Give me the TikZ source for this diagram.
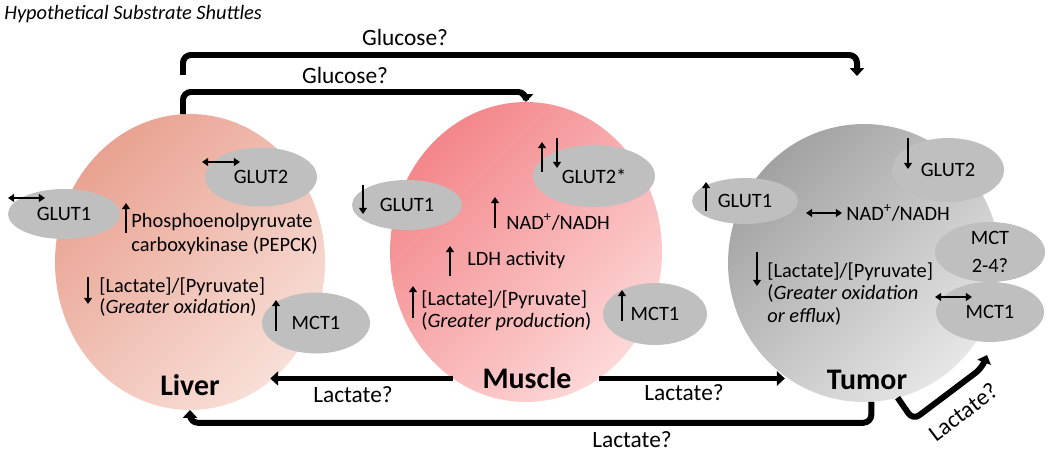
\documentclass[tikz,border=0pt]{standalone}
\usepackage{fontspec}
\setmainfont{Carlito}
\usetikzlibrary{shapes.geometric,arrows.meta}

\definecolor{liverdark}{HTML}{E9A291}
\definecolor{liverlight}{HTML}{F8DFD8}
\definecolor{muscledark}{HTML}{F3868A}
\definecolor{musclelight}{HTML}{FDD8D8}
\definecolor{tumordark}{HTML}{A2A2A2}
\definecolor{tumorlight}{HTML}{E6E6E6}
\definecolor{carriergray}{HTML}{BFBFBF}

\newcommand{\txtsize}{\fontsize{11.6}{14}\selectfont}
\newcommand{\lblsize}{\fontsize{13.3}{16}\selectfont}

\tikzset{
  organ/.style 2 args={ellipse, inner sep=0pt, outer sep=0pt,
    top color=#1, bottom color=#2, shading angle=45},
  carrier/.style={ellipse, fill=carriergray, inner sep=0pt, font=\txtsize},
  txt/.style={font=\txtsize, inner sep=0pt, anchor=west, align=left},
  orgname/.style={font=\fontsize{17}{20}\selectfont\bfseries, inner sep=0pt},
  flowlabel/.style={font=\lblsize, inner sep=0pt},
  flow/.style={line width=3.4pt, rounded corners=4.5pt,
    >={Triangle[length=4.5pt,width=8pt]}},
  trend/.style={line width=1.1pt, >={Triangle[length=3.5pt,width=4.5pt]}}
}

\begin{document}
\begin{tikzpicture}[x=0.02cm, y=-0.02cm]
    \useasboundingbox (0,0) rectangle (1050,452);

    % Titel
    \node[font=\txtsize\itshape, anchor=west, inner sep=0pt] (title) at (4,14) {Hypothetical Substrate Shuttles};

    % Organe
    \node[organ={liverdark}{liverlight}, minimum width=5.4cm, minimum height=5.92cm] (liver) at (190,262) {};
    \node[organ={muscledark}{musclelight}, minimum width=5.44cm, minimum height=6cm] (muscle) at (526,252) {};
    \node[organ={tumordark}{tumorlight}, minimum width=5.44cm, minimum height=5.56cm] (tumor) at (864,263) {};

    \node[orgname] (livername) at (190,385) {Liver};
    \node[orgname] (musclename) at (527,378) {Muscle};
    \node[orgname] (tumorname) at (867,380) {Tumor};

    % Leber
    \node[carrier, minimum width=2.24cm, minimum height=1cm] (lglut1) at (64,214) {GLUT1};
    \node[carrier, minimum width=2.24cm, minimum height=1.18cm] (lglut2) at (261,177) {GLUT2};
    \node[carrier, minimum width=2.16cm, minimum height=1.22cm] (lmct1) at (316,323) {MCT1};
    \node[txt] (pepck) at (131,234) {Phosphoenolpyruvate\\carboxykinase (PEPCK)};
    \node[txt, font=\fontsize{11.6}{11.6}\selectfont] (lratio) at (99,297) {[Lactate]/[Pyruvate]\\(\textit{Greater oxidation})};
    \draw[trend, <->] (8,198) -- (45,198);
    \draw[trend, <->] (202,162) -- (240,162);
    \draw[trend, ->] (126,233) -- (126,203);
    \draw[trend, ->] (88,277) -- (88,304);
    \draw[trend, ->] (276,331) -- (276,300);

    % Muskel
    \node[carrier, minimum width=2.2cm, minimum height=1cm] (mglut1) at (407,205) {GLUT1};
    \node[carrier, minimum width=2.44cm, minimum height=1.24cm] (mglut2) at (594,176) {GLUT2*};
    \node[carrier, minimum width=2.08cm, minimum height=1.24cm] (mmct1) at (655,314) {MCT1};
    \node[txt] (mnad) at (506,222) {NAD\textsuperscript{+}/NADH};
    \node[txt] (mldh) at (467,260) {LDH activity};
    \node[txt, font=\fontsize{11.6}{12.5}\selectfont] (mratio) at (421,311) {[Lactate]/[Pyruvate]\\(\textit{Greater production})};
    \draw[trend, ->] (363,185) -- (363,214);
    \draw[trend, ->] (542,172) -- (542,142);
    \draw[trend, ->] (557,138) -- (557,168);
    \draw[trend, ->] (495,228) -- (495,197);
    \draw[trend, ->] (450,276) -- (450,246);
    \draw[trend, ->] (413,318) -- (413,286);
    \draw[trend, ->] (622,321) -- (622,290);

    % Tumor
    \node[carrier, minimum width=2.12cm, minimum height=0.92cm] (tglut1) at (745,201) {GLUT1};
    \node[carrier, minimum width=2.24cm, minimum height=1.28cm] (tglut2) at (948,170) {GLUT2};
    \node[carrier, minimum width=2.2cm, minimum height=1.2cm,
      label={[font=\fontsize{11.6}{15.5}\selectfont, align=center]center:MCT\\2-4?}] (tmct24) at (990,252) {};
    \node[carrier, minimum width=2.16cm, minimum height=1.2cm] (tmct1) at (990,312) {MCT1};
    \node[txt] (tnad) at (846,213) {NAD\textsuperscript{+}/NADH};
    \node[txt, font=\fontsize{11.6}{12.8}\selectfont] (tratio) at (767,294) {[Lactate]/[Pyruvate]\\(\textit{Greater oxidation}\\\textit{or efflux})};
    \draw[trend, ->] (706,211) -- (706,182);
    \draw[trend, ->] (908,138) -- (908,169);
    \draw[trend, <->] (806,213) -- (842,213);
    \draw[trend, ->] (757,252) -- (757,286);
    \draw[trend, <->] (935,297) -- (972,297);

    % Glukose-Wege
    \coordinate (gluout) at (183,75);
    \coordinate (glutip) at (857,76);
    \draw[flow, ->] (gluout) -- (183,55) -| (glutip);
    \draw[flow, ->] ([xshift=-0.14cm]liver.north) |- (muscle.north |- 0,92) -- (muscle.north);
    \node[flowlabel] (glu1) at (405,37) {Glucose?};
    \node[flowlabel] (glu2) at (345,75) {Glucose?};

    % Laktat-Wege
    \draw[flow, ->] (muscle.-120) -- (muscle.-120 -| liver.-56);
    \draw[flow, ->] (muscle.-60) -- (muscle.-60 -| tumor.-125);
    \draw[flow, ->] (tumor.-87) -- ++(0,21) -| (liver.south);
    \coordinate (lactip) at (987,355);
    \draw[flow, ->] (tumor.-76) -- (913,420) -- (982,368) -- (lactip);
    \node[flowlabel] (lac1) at (353,395) {Lactate?};
    \node[flowlabel] (lac2) at (684,393) {Lactate?};
    \node[flowlabel] (lac3) at (632,440) {Lactate?};
    \node[flowlabel, rotate=37] (lac4) at (963,412) {Lactate?};
\end{tikzpicture}
\end{document}
